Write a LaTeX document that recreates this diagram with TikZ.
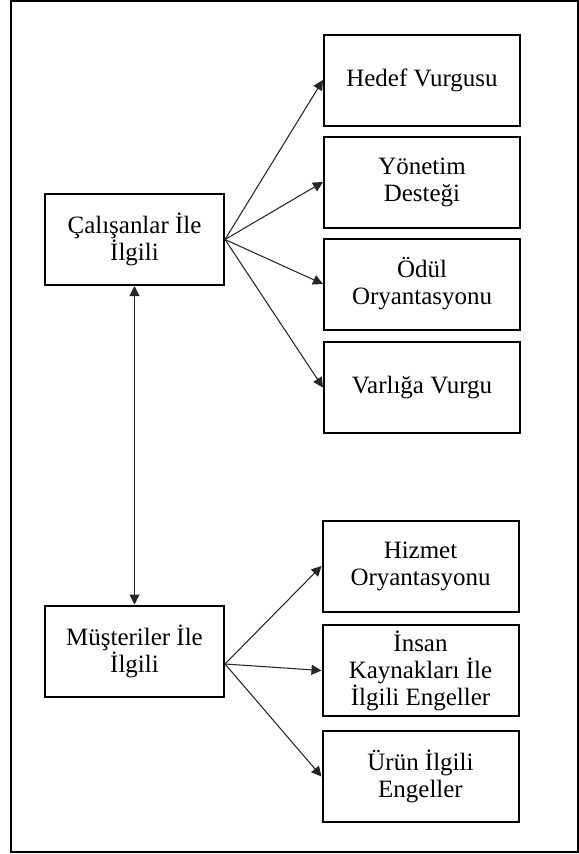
\documentclass[tikz,border=0pt]{standalone}
\usepackage{fontspec}
\setmainfont{Liberation Serif}
\usetikzlibrary{positioning,arrows.meta}

\begin{document}
\begin{tikzpicture}[>={Triangle[length=0.2cm,width=0.2cm]},
		every node/.style={font=\fontsize{14.2}{15.4}\selectfont},
		lbox/.style={
			draw,
			line width=0.04cm,
			minimum height=1.82cm,
			minimum width=3.58cm,
			align=center},
		rbox/.style={
			draw,
			line width=0.04cm,
			minimum height=1.82cm,
			minimum width=3.92cm,
			align=center},
		link/.style={
			draw=black!85,
			line width=0.6pt}]

		\useasboundingbox (-2.69,4.79) rectangle (8.89,-12.29);
		\draw [line width=0.04cm] (-2.47,4.77) rectangle (8.87,-12.25);

		\node (cal) [lbox] {Çalışanlar İle\\İlgili};
		\node (hedef) [rbox, right of = cal, xshift=4.75cm, yshift=3.19cm] {Hedef Vurgusu};
		\node (yon) [rbox, below of = hedef, yshift=-1.04cm] {Yönetim\\Desteği};
		\node (odul) [rbox, below of = yon, yshift=-1.04cm] {Ödül\\Oryantasyonu};
		\node (var) [rbox, below of = odul, yshift=-1.07cm] {Varlığa Vurgu};

		\node (mus) [lbox, below of = cal, yshift=-7.23cm] {Müşteriler İle\\İlgili};
		\node (hiz) [rbox, right of = mus, xshift=4.72cm, yshift=1.7cm] {Hizmet\\Oryantasyonu};
		\node (ins) [rbox, below of = hiz, yshift=-1.09cm] {İnsan\\Kaynakları İle\\İlgili Engeller};
		\node (urun) [rbox, below of = ins, yshift=-1.12cm] {Ürün İlgili\\Engeller};

		\draw [link, <->] (cal) -- (mus);
		\draw [link, ->] (cal.east) -- (hedef.west);
		\draw [link, ->] (cal.east) -- (yon.west);
		\draw [link, ->] (cal.east) -- (odul.west);
		\draw [link, ->] (cal.east) -- (var.west);
		\draw [link, ->] ([yshift=-0.26cm]mus.east) -- (hiz.west);
		\draw [link, ->] ([yshift=-0.26cm]mus.east) -- (ins.west);
		\draw [link, ->] ([yshift=-0.26cm]mus.east) -- (urun.west);
	\end{tikzpicture}
\end{document}
